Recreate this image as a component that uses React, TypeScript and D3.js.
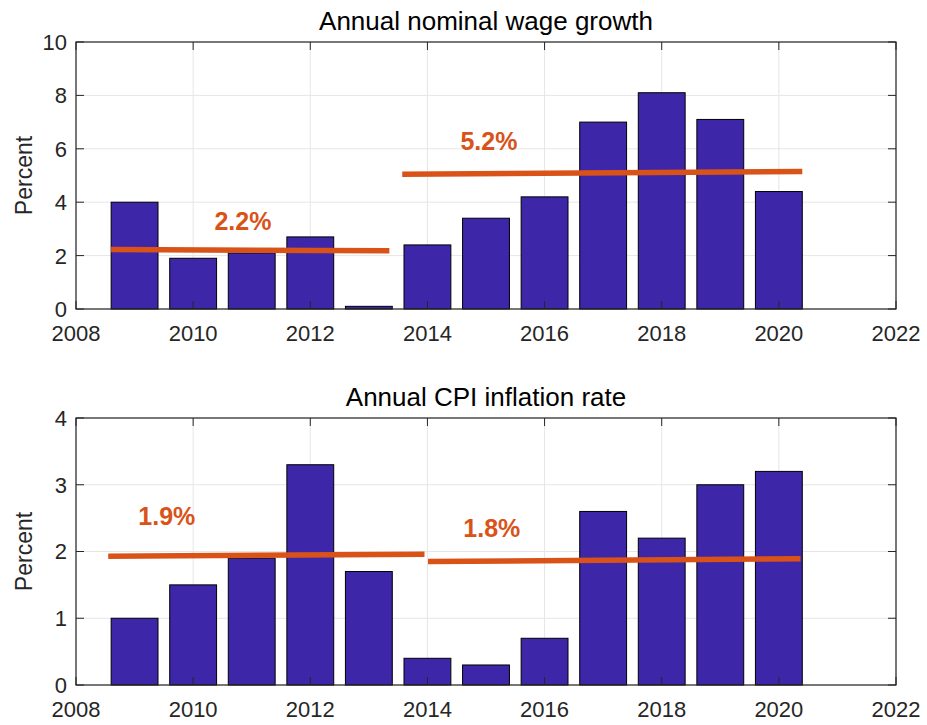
import React from "react";
import { scaleLinear } from "d3";

// data
const years = [2009, 2010, 2011, 2012, 2013, 2014, 2015, 2016, 2017, 2018, 2019, 2020];
const wageGrowth = [4.0, 1.9, 2.1, 2.7, 0.1, 2.4, 3.4, 4.2, 7.0, 8.1, 7.1, 4.4];
const cpiInflation = [1.0, 1.5, 1.9, 3.3, 1.7, 0.4, 0.3, 0.7, 2.6, 2.2, 3.0, 3.2];

// trend segments: [x0, x1, y0, y1]
const wageTrends = [
  [2008.6, 2013.35, 2.23, 2.18],
  [2013.57, 2020.4, 5.05, 5.15],
];
const cpiTrends = [
  [2008.55, 2013.95, 1.93, 1.96],
  [2014.01, 2020.37, 1.85, 1.89],
];
// label text with anchor in data coords
const wageLabels = [
  { text: "2.2%", x: 2010.85, y: 2.97 },
  { text: "5.2%", x: 2015.05, y: 5.97 },
];
const cpiLabels = [
  { text: "1.9%", x: 2009.55, y: 2.39 },
  { text: "1.8%", x: 2015.1, y: 2.22 },
];

const xTicks = [2008, 2010, 2012, 2014, 2016, 2018, 2020, 2022];
const wageTicks = [0, 2, 4, 6, 8, 10];
const cpiTicks = [0, 1, 2, 3, 4];

const BAR = "#3E26A8";
const TREND = "#D95319";
const AXIS = "#262626";
const FONT = "'Liberation Sans', Arial, Helvetica, sans-serif";

function Panel({ title, values, trends, labels, yMax, yTicks, top, bottom }) {
  const left = 76;
  const right = 896;
  const x = scaleLinear().domain([2008, 2022]).range([left, right]);
  const y = scaleLinear().domain([0, yMax]).range([bottom, top]);
  const tick = 8;

  return (
    <g>
      {/* grid */}
      {xTicks.map((t) => (
        <line key={"gx" + t} x1={x(t)} x2={x(t)} y1={top} y2={bottom} stroke="#E6E6E6" strokeWidth={1} />
      ))}
      {yTicks.map((t) => (
        <line key={"gy" + t} x1={left} x2={right} y1={y(t)} y2={y(t)} stroke="#E6E6E6" strokeWidth={1} />
      ))}

      {/* bars */}
      {years.map((yr, i) => (
        <rect
          key={yr}
          x={x(yr - 0.4)}
          y={y(values[i])}
          width={x(yr + 0.4) - x(yr - 0.4)}
          height={y(0) - y(values[i])}
          fill={BAR}
          stroke="#000"
          strokeWidth={1}
        />
      ))}

      {/* trend lines */}
      {trends.map((d, i) => (
        <line key={"tr" + i} x1={x(d[0])} x2={x(d[1])} y1={y(d[2])} y2={y(d[3])} stroke={TREND} strokeWidth={5.5} />
      ))}
      {labels.map((l) => (
        <text
          key={l.text}
          x={x(l.x)}
          y={y(l.y)}
          textAnchor="middle"
          fill={TREND}
          fontFamily={FONT}
          fontWeight="bold"
          fontSize={25}
        >
          {l.text}
        </text>
      ))}

      {/* box */}
      <rect x={left} y={top} width={right - left} height={bottom - top} fill="none" stroke={AXIS} strokeWidth={1.2} />

      {/* ticks */}
      {xTicks.map((t) => (
        <g key={"tx" + t}>
          <line x1={x(t)} x2={x(t)} y1={bottom} y2={bottom - tick} stroke={AXIS} />
          <line x1={x(t)} x2={x(t)} y1={top} y2={top + tick} stroke={AXIS} />
          <text x={x(t)} y={bottom + 32} textAnchor="middle" fill={AXIS} fontFamily={FONT} fontSize={22}>
            {t}
          </text>
        </g>
      ))}
      {yTicks.map((t) => (
        <g key={"ty" + t}>
          <line x1={left} x2={left + tick} y1={y(t)} y2={y(t)} stroke={AXIS} />
          <line x1={right} x2={right - tick} y1={y(t)} y2={y(t)} stroke={AXIS} />
          <text x={67} y={y(t)} dy="0.36em" textAnchor="end" fill={AXIS} fontFamily={FONT} fontSize={22}>
            {t}
          </text>
        </g>
      ))}

      <text
        transform={`translate(32,${(top + bottom) / 2}) rotate(-90)`}
        textAnchor="middle"
        fill={AXIS}
        fontFamily={FONT}
        fontSize={23}
      >
        Percent
      </text>
      <text x={(left + right) / 2} y={top - 12} textAnchor="middle" fill="#000" fontFamily={FONT} fontSize={26}>
        {title}
      </text>
    </g>
  );
}

export default function App() {
  return (
    <svg
      width={927}
      height={725}
      style={{ position: "absolute", left: 0, top: 0, background: "#fff" }}
    >
      <rect width={927} height={725} fill="#fff" />
      <Panel
        title="Annual nominal wage growth"
        values={wageGrowth}
        trends={wageTrends}
        labels={wageLabels}
        yMax={10}
        yTicks={wageTicks}
        top={42}
        bottom={309}
      />
      <Panel
        title="Annual CPI inflation rate"
        values={cpiInflation}
        trends={cpiTrends}
        labels={cpiLabels}
        yMax={4}
        yTicks={cpiTicks}
        top={418}
        bottom={685}
      />
    </svg>
  );
}
